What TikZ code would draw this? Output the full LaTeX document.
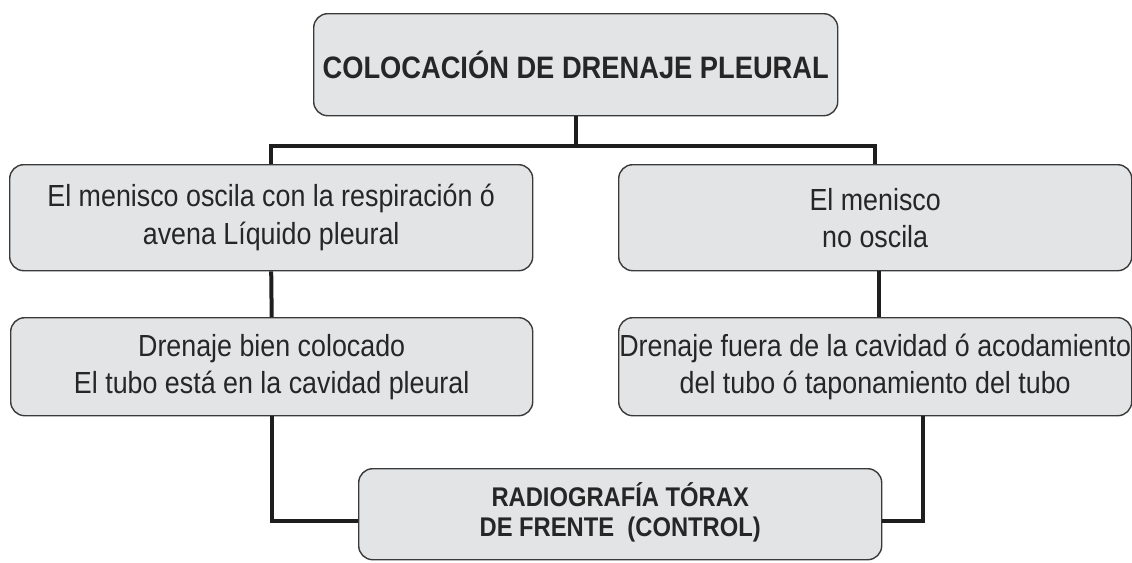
\documentclass[tikz,border=0pt]{standalone}
\usepackage{fontspec}
\setmainfont{Liberation Sans}[FakeStretch=0.88]
\usetikzlibrary{calc}
\definecolor{boxfill}{HTML}{E3E4E6}
\definecolor{boxline}{HTML}{3A3A3A}
\definecolor{conn}{HTML}{1E1E1E}
\tikzset{
  flowbox/.style={draw=boxline, line width=1.4pt, fill=boxfill, rounded corners=14pt,
    inner sep=0pt, anchor=north west, align=center, text=black!85},
  connline/.style={draw=conn, line width=4pt}
}
\begin{document}
\begin{tikzpicture}[x=1pt,y=-1pt]
\useasboundingbox (0,0) rectangle (1132,562);
% boxes
\node[flowbox, minimum width=524pt, minimum height=102pt, font=\fontsize{31}{36}\selectfont\bfseries] (top) at (313,13) {\raisebox{-12pt}{COLOCACIÓN DE DRENAJE PLEURAL}};
\node[flowbox, minimum width=523pt, minimum height=106pt, font=\fontsize{30.5}{38}\selectfont] (l1) at (9,164) {El menisco oscila con la respiración ó\\avena Líquido pleural};
\node[flowbox, minimum width=513pt, minimum height=106pt, font=\fontsize{30.5}{37}\selectfont] (r1) at (618,164) {El menisco\\no oscila};
\node[flowbox, minimum width=522pt, minimum height=98pt, font=\fontsize{30.5}{37}\selectfont] (l2) at (10,317) {Drenaje bien colocado\\El tubo está en la cavidad pleural};
\node[flowbox, minimum width=513pt, minimum height=98pt, font=\fontsize{30.5}{37}\selectfont] (r2) at (618,317) {Drenaje fuera de la cavidad ó acodamiento\\del tubo ó taponamiento del tubo};
\node[flowbox, minimum width=523pt, minimum height=91pt, font=\fontsize{27}{30}\selectfont\bfseries] (bot) at (358,468) {\raisebox{8pt}{\begin{tabular}{@{}c@{}}RADIOGRAFÍA TÓRAX\\DE FRENTE\ \ (CONTROL)\end{tabular}}};
% connectors
\coordinate (bar) at ($(top.south)+(0,30)$);
\draw[connline] (top.south) -- (bar);
\draw[connline] (l1.north) |- (bar) -| (r1.north);
\draw[connline] (l1.south) -- (l2.north);
\draw[connline] ($(r1.south)+(4,0)$) -- ($(r2.north)+(4,0)$);
\coordinate (lturn) at ($(l2.south)+(0,105)$);
\draw[connline] (l2.south) -- (lturn) -- (lturn -| bot.west);
\coordinate (rdrop) at ($(r2.south)+(48,0)$);
\draw[connline] (rdrop) -- (rdrop |- lturn) -- (lturn -| bot.east);
\end{tikzpicture}
\end{document}
